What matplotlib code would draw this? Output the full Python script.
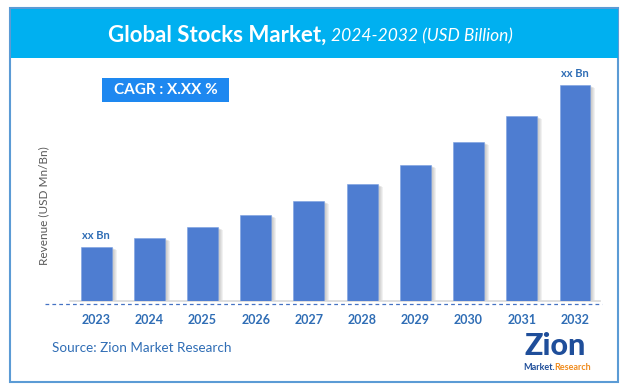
import matplotlib
matplotlib.use("Agg")
import matplotlib.pyplot as plt
from matplotlib.patches import Rectangle
from matplotlib.lines import Line2D

# chart data (relative bar heights)
years = ["2023", "2024", "2025", "2026", "2027", "2028", "2029", "2030", "2031", "2032"]
revenue = [54, 63, 74, 86, 100, 117, 136, 159, 185, 216]
end_labels = {0: "xx Bn", 9: "xx Bn"}

W, H = 627, 392
plt.rcParams['font.family'] = ['Lato', 'DejaVu Sans']

BAR = "#4e7dd1"
HEAD = "#00b0f0"
TXT = "#2f6db5"


def fx(x):
    return x / W


def fy(y):
    return 1 - y / H


fig = plt.figure(figsize=(W / 100, H / 100), dpi=100)
fig.patch.set_facecolor("white")

# outer frame and title band
fig.add_artist(Rectangle((fx(10), fy(382)), fx(608), 374 / H, transform=fig.transFigure,
                         fill=False, edgecolor="#5b9bd5", lw=1.5))
fig.add_artist(Rectangle((fx(10.5), fy(58)), fx(607), 49 / H, transform=fig.transFigure,
                         facecolor=HEAD, edgecolor="none"))
t1 = fig.text(fx(108), fy(35), "Global Stocks Market,", color="white", fontsize=16,
              fontweight="bold", va="center", ha="left")
fig.canvas.draw()
bb = t1.get_window_extent()
fig.text(bb.x1 / W + fx(5), fy(36), "2024-2032 (USD Billion)", color="white", fontsize=12.5,
         style="italic", va="center", ha="left")

# bar axes: x pixels 70..600, y pixels 301..60
ax = fig.add_axes([fx(70), fy(301), fx(530), 241 / H])
x = list(range(len(years)))
px = 1 / 53.2
for k in range(1, 6):
    ax.bar([i + k * px for i in x], [v - k * 0.6 for v in revenue], width=0.58, bottom=0,
           color="#404040", alpha=0.07, zorder=1, linewidth=0)
ax.bar(x, revenue, width=0.58, color=BAR, zorder=3, edgecolor="#7aa0e0", linewidth=0.4)
ax.set_xlim(-0.49, 9.47)
ax.set_ylim(0, 241)
for s in ["top", "right", "left"]:
    ax.spines[s].set_visible(False)
ax.spines["bottom"].set_color("#d9d9d9")
ax.spines["bottom"].set_linewidth(1.2)
ax.set_yticks([])
ax.set_xticks(x)
ax.set_xticklabels(years, fontsize=9, fontweight="bold", color=TXT)
ax.tick_params(axis="x", length=0, pad=9)
ax.patch.set_alpha(0)

for i, lab in end_labels.items():
    ax.text(i, revenue[i] + 6, lab, ha="center", va="bottom", fontsize=8, fontweight="bold",
            color=TXT)

# dashed base line
fig.add_artist(Line2D([fx(45), fx(602)], [fy(304), fy(304)], transform=fig.transFigure,
                      color="#4472c4", lw=0.9, linestyle=(0, (3, 2.5))))

# CAGR box
fig.add_artist(Rectangle((fx(102), fy(102)), fx(127), 24 / H, transform=fig.transFigure,
                         facecolor="#1e88f0", edgecolor="none"))
fig.text(fx(165.5), fy(90), "CAGR : X.XX %", color="white", fontsize=11, fontweight="bold",
         ha="center", va="center")

# axis title
fig.text(fx(44), fy(206), "Revenue (USD Mn/Bn)", rotation=90, fontsize=8.5, color="#595959",
         ha="center", va="center")

# source
fig.text(fx(52), fy(348), "Source: Zion Market Research", fontsize=9.7, color=TXT,
         ha="left", va="center")

# logo
fig.text(fx(555), fy(346), "Zion", fontsize=22, fontweight=900, color="#1f4e9a",
         ha="center", va="center")
m = fig.text(fx(523), fy(368), "Market.", fontsize=6.5, fontweight="bold", color="#1f4e9a",
             ha="left", va="center")
fig.canvas.draw()
mb = m.get_window_extent()
fig.text(mb.x1 / W, fy(368), "Research", fontsize=6.5, fontweight="bold", color="#f08c1e",
         ha="left", va="center")

fig.savefig("out.png", dpi=100, facecolor="white")
